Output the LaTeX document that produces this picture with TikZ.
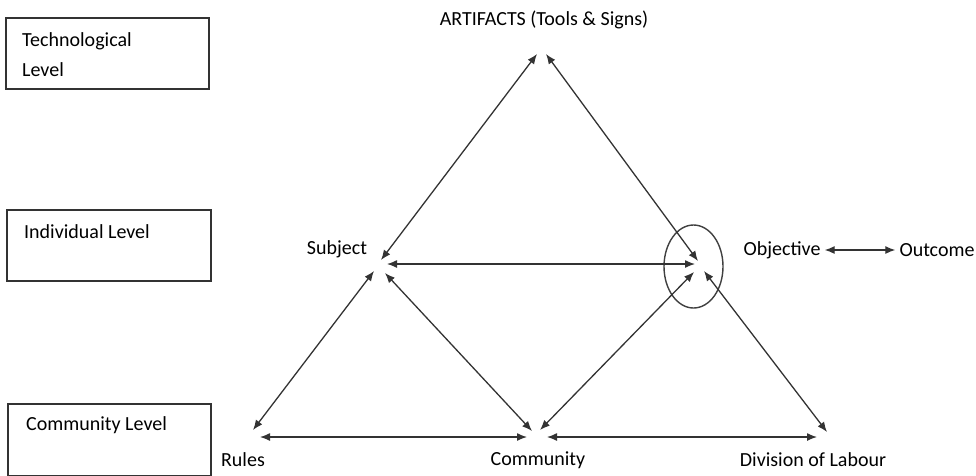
\documentclass[tikz,border=0pt]{standalone}
\usepackage{fontspec}
\setmainfont{Carlito}
\usetikzlibrary{arrows.meta}

\tikzset{
	lvlbox/.style={draw=black!80, line width=1.4pt},
	lbl/.style={inner sep=0pt, text=black, font=\fontsize{20}{30}\selectfont},
	link/.style={draw=black!80, line width=1.3pt, {Latex[length=10pt,width=8pt]}-{Latex[length=10pt,width=8pt]}}
}

\begin{document}
\begin{tikzpicture}[x=1pt, y=-1pt]
		%%%%% START %%%%%
		\useasboundingbox (0,0) rectangle (976,475);
		
		% level boxes
		\draw[lvlbox] (6, 18) rectangle (209, 89);
		\draw[lvlbox] (7, 210) rectangle (211, 281);
		\draw[lvlbox] (8, 404) rectangle (211, 476);
		\node[lbl, anchor=west, align=left] (techlvl) at (22, 55) {Technological\\Level};
		\node[lbl, anchor=west] (indivlvl) at (24, 232) {Individual Level};
		\node[lbl, anchor=west] (commlvl) at (26, 425) {Community Level};
		
		% labels of the triangle
		\node[lbl] (artifacts) at (544, 20) {ARTIFACTS (Tools \& Signs)};
		\node[lbl] (subject) at (337, 249) {Subject};
		\node[lbl] (objective) at (782, 250) {Objective};
		\node[lbl] (outcome) at (937, 250) {Outcome};
		\node[lbl] (rules) at (243, 460) {Rules};
		\node[lbl] (community) at (538, 460) {Community};
		\node[lbl] (labour) at (813, 460) {Division of Labour};
		
		% arrow ends
		\coordinate (art-l) at (537, 54);
		\coordinate (art-r) at (546, 54);
		\coordinate (sub-a) at (381, 260);
		\coordinate (sub-h) at (387, 264);
		\coordinate (sub-r) at (374, 271);
		\coordinate (sub-c) at (385, 273);
		\coordinate (obj-a) at (698, 261);
		\coordinate (obj-h) at (695, 264);
		\coordinate (obj-c) at (694, 272);
		\coordinate (obj-d) at (704, 271);
		\coordinate (rul-s) at (253, 430);
		\coordinate (rul-h) at (260, 437);
		\coordinate (com-s) at (532, 431);
		\coordinate (com-o) at (540, 430);
		\coordinate (com-l) at (527, 437);
		\coordinate (com-r) at (547, 437);
		\coordinate (div-h) at (817, 437);
		\coordinate (div-o) at (827, 432);
		
		% object ring
		\draw[draw=black!75, line width=1.4pt] (693.5, 266.5) ellipse (29.5 and 41.5);
		
		% connectors
		\draw[link] (art-l) -- (sub-a);
		\draw[link] (art-r) -- (obj-a);
		\draw[link] (sub-h) -- (obj-h);
		\draw[link] (rul-s) -- (sub-r);
		\draw[link] (sub-c) -- (com-s);
		\draw[link] (com-o) -- (obj-c);
		\draw[link] (obj-d) -- (div-o);
		\draw[link] (rul-h) -- (com-l);
		\draw[link] (com-r) -- (div-h);
		\draw[link] ([xshift=4pt]objective.east) -- ([xshift=-4pt]outcome.west);
		
		%%%%% END %%%%%
\end{tikzpicture}
\end{document}
